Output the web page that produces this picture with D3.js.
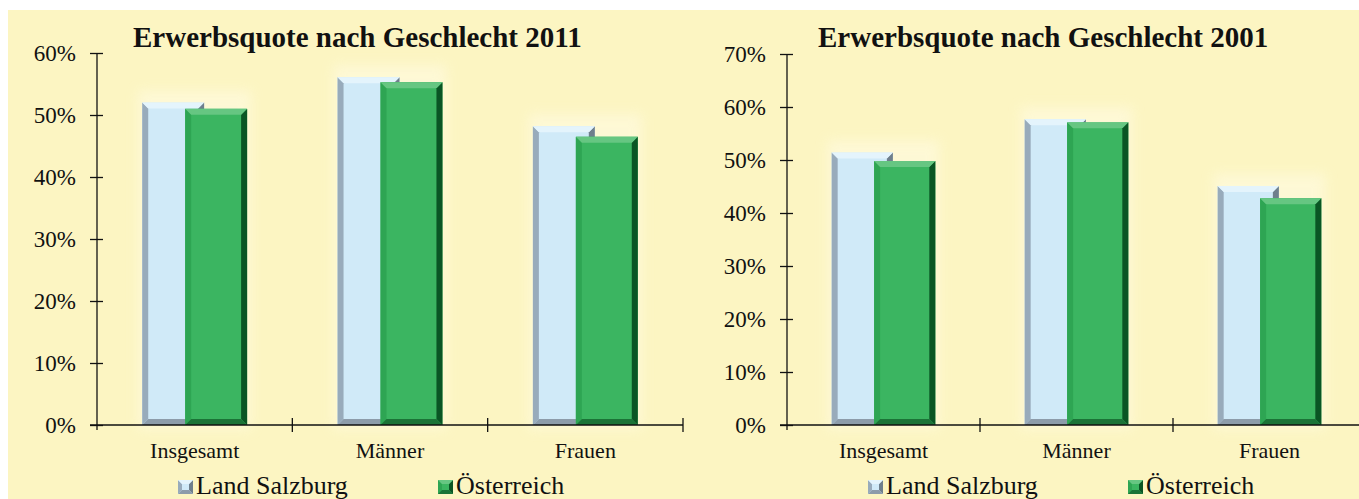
<!DOCTYPE html>
<html>
<head>
<meta charset="utf-8">
<script src="https://cdn.jsdelivr.net/npm/d3@7"></script>
<style>
	body { margin: 0; background: #fff; }
	svg { display: block; }
	text { font-family: "Liberation Serif", "Times New Roman", serif; fill: #111; }
	.axis path, .axis line { stroke: #111; stroke-width: 1.3; }
</style>
</head>
<body>
<svg id="chart" width="1359" height="499"></svg>
<script>
/* global d3 */

const categories = ['Insgesamt', 'Männer', 'Frauen'];
const seriesNames = ['Land Salzburg', 'Österreich'];

const salzburg2011 = [52.0, 56.1, 48.2];
const oesterreich2011 = [51.0, 55.3, 46.5];
const salzburg2001 = [51.4, 57.7, 45.1];
const oesterreich2001 = [49.8, 57.1, 42.8];

const ticks2011 = [0, 10, 20, 30, 40, 50, 60];
const ticks2001 = [0, 10, 20, 30, 40, 50, 60, 70];

const W = 1359;
const H = 499;
const BEVEL = 6;

const PALETTE = {
	'Land Salzburg': { main: '#d0eaf8', left: '#98abbb', right: '#6f7f8c', top: '#e4f4fc', bottom: '#8d9caa' },
	'Österreich': { main: '#3bb561', left: '#2ea553', right: '#0a5524', top: '#66c682', bottom: '#1b7337' }
};

const $svg = d3.select('#chart');

// yellow panel behind everything
$svg.append('rect')
	.attr('x', 8)
	.attr('y', 10)
	.attr('width', W - 8)
	.attr('height', H - 10)
	.attr('fill', '#fcf5c2');

const defs = $svg.append('defs');
defs.append('filter')
	.attr('id', 'glow')
	.attr('x', '-30%').attr('y', '-30%').attr('width', '160%').attr('height', '160%')
	.append('feGaussianBlur')
	.attr('stdDeviation', 6);

function bevelBox(g, x, y, w, h, pal, b) {
	const pts = arr => arr.map(p => p.join(',')).join(' ');
	g.append('rect')
		.attr('x', x).attr('y', y).attr('width', w).attr('height', h)
		.attr('fill', pal.main);
	g.append('polygon')
		.attr('points', pts([[x, y], [x + b, y + b], [x + b, y + h - b], [x, y + h]]))
		.attr('fill', pal.left);
	g.append('polygon')
		.attr('points', pts([[x + w, y], [x + w - b, y + b], [x + w - b, y + h - b], [x + w, y + h]]))
		.attr('fill', pal.right);
	g.append('polygon')
		.attr('points', pts([[x, y], [x + w, y], [x + w - b, y + b], [x + b, y + b]]))
		.attr('fill', pal.top);
	g.append('polygon')
		.attr('points', pts([[x, y + h], [x + w, y + h], [x + w - b, y + h - b], [x + b, y + h - b]]))
		.attr('fill', pal.bottom);
}

function drawChart({ title, titleX, left, right, top, bottom, maxPct, tickVals, values }) {
	const $g = $svg.append('g');

	const x = d3.scaleBand()
		.domain(categories)
		.range([left, right])
		.padding(0);

	const y = d3.scaleLinear()
		.domain([0, maxPct])
		.range([bottom, top]);

	const barW = x.bandwidth() * 0.317;
	const sub = d3.scalePoint()
		.domain(seriesNames)
		.range([-x.bandwidth() * 0.11, x.bandwidth() * 0.11]);

	const rows = categories.map((c, i) => seriesNames.map((s, j) => ({
		category: c,
		series: s,
		value: values[j][i]
	})));

	// faint light halo behind each pair
	rows.forEach(pair => {
		const cx = x(pair[0].category) + x.bandwidth() / 2;
		const maxV = d3.max(pair, d => d.value);
		$g.append('rect')
			.attr('x', cx + sub(seriesNames[0]) - barW / 2 - 4)
			.attr('y', y(maxV) - 12)
			.attr('width', sub(seriesNames[1]) - sub(seriesNames[0]) + barW + 8)
			.attr('height', bottom - y(maxV) + 16)
			.attr('fill', '#fffbe2')
			.attr('opacity', 0.6)
			.attr('filter', 'url(#glow)');
	});

	const $bars = $g.append('g').attr('class', 'bars');
	rows.forEach(pair => {
		pair.forEach(d => {
			const cx = x(d.category) + x.bandwidth() / 2 + sub(d.series);
			const yTop = y(d.value);
			bevelBox($bars.append('g'), cx - barW / 2, yTop, barW, bottom - yTop, PALETTE[d.series], BEVEL);
		});
	});

	// y axis
	const yAxis = d3.axisLeft(y)
		.tickValues(tickVals)
		.tickFormat(d => `${d}%`)
		.tickSizeInner(6)
		.tickSizeOuter(0)
		.tickPadding(15);

	const $yAxis = $g.append('g')
		.attr('class', 'axis')
		.attr('transform', `translate(${left},0)`)
		.call(yAxis);
	$yAxis.select('.domain').attr('d', `M0,${top}V${bottom + 5}`);
	$yAxis.selectAll('.tick line').attr('x1', 6).attr('x2', -7);
	$yAxis.selectAll('.tick text')
		.style('font-size', '23px')
		.style('font-family', '"Liberation Serif", serif')
		.attr('fill', '#111');

	// x axis
	const xAxis = d3.axisBottom(x).tickSize(0).tickPadding(0);
	const $xAxis = $g.append('g')
		.attr('class', 'axis')
		.attr('transform', `translate(0,${bottom})`)
		.call(xAxis);
	$xAxis.select('.domain').attr('d', `M${left - 7},0H${Math.min(right, W + 5)}`);
	$xAxis.selectAll('.tick text')
		.attr('y', 33)
		.attr('dy', 0)
		.style('font-size', '22px')
		.style('font-family', '"Liberation Serif", serif')
		.attr('fill', '#111');
	$xAxis.selectAll('.sep')
		.data(categories)
		.enter()
		.append('line')
		.attr('class', 'sep')
		.attr('x1', d => x(d) + x.step())
		.attr('x2', d => x(d) + x.step())
		.attr('y1', -7)
		.attr('y2', 7)
		.attr('stroke', '#111')
		.attr('stroke-width', 1.3);

	// title
	$g.append('text')
		.attr('x', titleX)
		.attr('y', 47)
		.style('font-size', '29px')
		.style('font-weight', 'bold')
		.text(title);

	// legend
	const legendX = [left + 81, left + 341];
	seriesNames.forEach((s, i) => {
		const $l = $g.append('g').attr('transform', `translate(${legendX[i]},480)`);
		bevelBox($l, 0, 0, 15, 14, PALETTE[s], 4);
		$l.append('text')
			.attr('x', 18)
			.attr('y', 14)
			.style('font-size', '26px')
			.text(s);
	});
}

drawChart({
	title: 'Erwerbsquote nach Geschlecht 2011',
	titleX: 133,
	left: 97,
	right: 683,
	top: 53,
	bottom: 425,
	maxPct: 60,
	tickVals: ticks2011,
	values: [salzburg2011, oesterreich2011]
});

drawChart({
	title: 'Erwerbsquote nach Geschlecht 2001',
	titleX: 818,
	left: 787,
	right: 1366,
	top: 54,
	bottom: 425,
	maxPct: 70,
	tickVals: ticks2001,
	values: [salzburg2001, oesterreich2001]
});
</script>
</body>
</html>
